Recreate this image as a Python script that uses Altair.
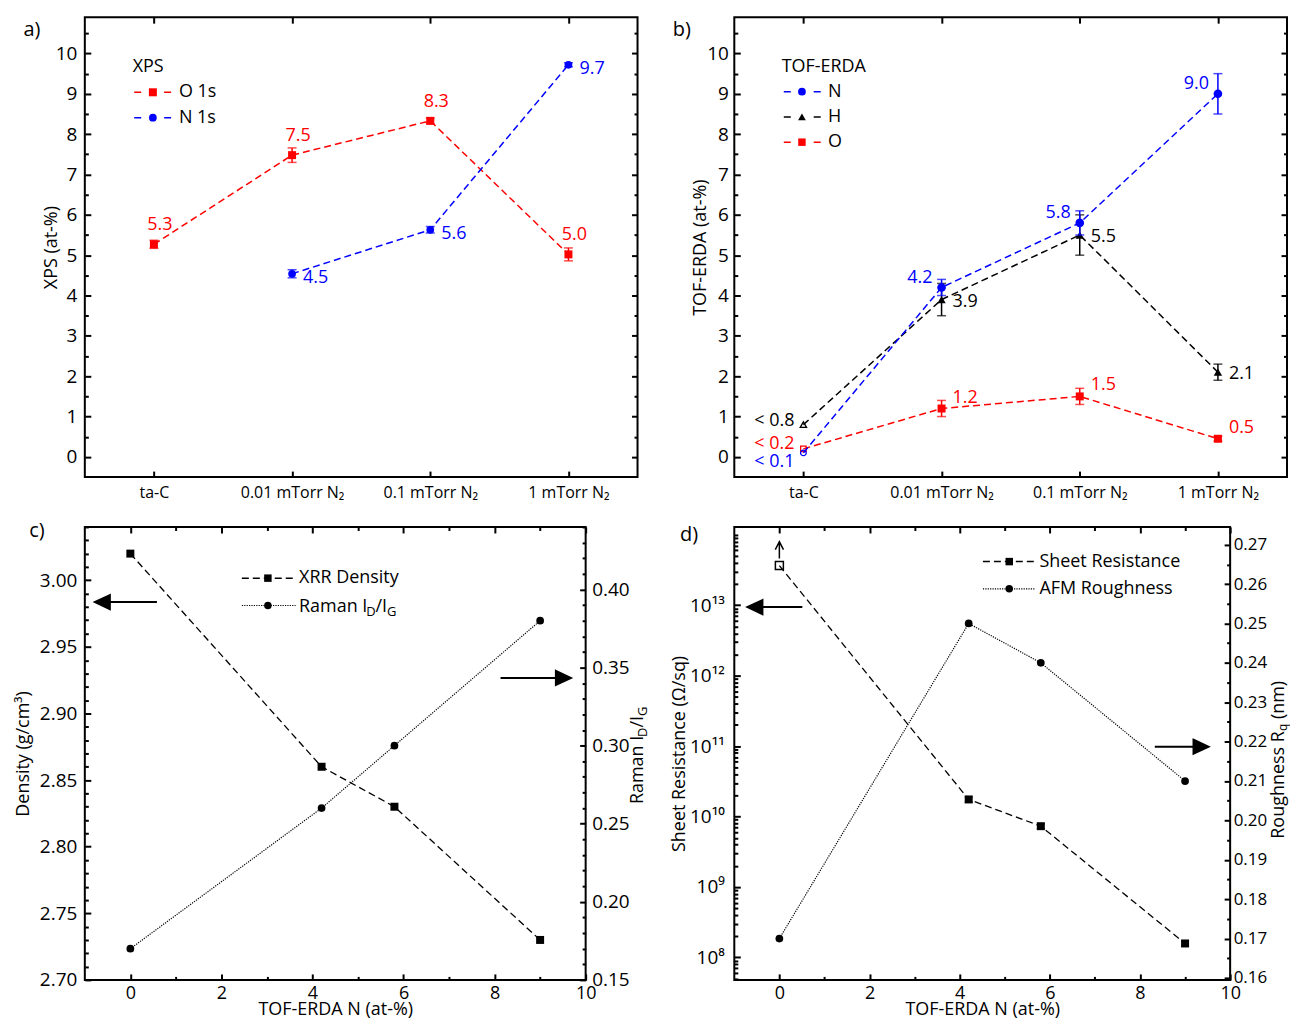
import altair as alt
import pandas as pd

FONT = "Open Sans"
RED, BLUE, BLACK = "#ff0000", "#0000ff", "#000000"

# ---------------- data ----------------
categories = ["ta-C", "0.01 mTorr N₂", "0.1 mTorr N₂", "1 mTorr N₂"]

# a) XPS
xps_o = [5.27, 7.48, 8.33, 5.02]
xps_o_err = [0.10, 0.18, 0.07, 0.16]
xps_n_cats = ["0.01 mTorr N₂", "0.1 mTorr N₂", "1 mTorr N₂"]
xps_n = [4.54, 5.63, 9.72]
xps_n_err = [0.10, 0.08, 0.05]

# b) TOF-ERDA
erda_n = [0.1, 4.2, 5.8, 9.0]
erda_n_err = [0.0, 0.2, 0.3, 0.5]
erda_n_labels = ["< 0.1", "4.2", "5.8", "9.0"]
erda_h = [0.8, 3.9, 5.5, 2.1]
erda_h_err = [0.0, 0.4, 0.5, 0.2]
erda_h_labels = ["< 0.8", "3.9", "5.5", "2.1"]
erda_o = [0.2, 1.2, 1.5, 0.45]
erda_o_err = [0.0, 0.2, 0.2, 0.06]
erda_o_labels = ["< 0.2", "1.2", "1.5", "0.5"]
erda_open = [1, 0, 0, 0]

# c) / d)
tof_n = [0.0, 4.2, 5.8, 9.0]
xrr_density = [3.02, 2.86, 2.83, 2.73]
raman_id_ig = [0.17, 0.26, 0.30, 0.38]
sheet_res = [3.65e13, 1.75e10, 7.3e9, 1.58e8]
sheet_res_err = [0.0, 0.15e10, 0.6e9, 0.13e8]
sheet_res_open = [1, 0, 0, 0]
afm_rq = [0.17, 0.25, 0.24, 0.21]
log_tick_labels = ["10⁸", "10⁹", "10¹⁰", "10¹¹", "10¹²", "10¹³"]

# ---------------- layout constants ----------------
W_AB, W_C, W_D, H, H2 = 554, 502, 497, 461, 454
DASH = [7, 4]
DOT = [1.2, 1.2]
ONE = pd.DataFrame({"k": [0]})

YAB = alt.Scale(domain=[-0.5, 10.9], nice=False, zero=False)
XCAT = alt.Scale(type="point", domain=categories, padding=0.5)
XN = alt.Scale(domain=[-1, 10], nice=False, zero=False)
YL_C = alt.Scale(domain=[2.70, 3.04], nice=False, zero=False)
YR_C = alt.Scale(domain=[0.15, 0.44], nice=False, zero=False)
YL_D = alt.Scale(type="log", domain=[4.8e7, 1.29e14], nice=False)
YR_D = alt.Scale(domain=[0.1595, 0.2745], nice=False, zero=False)

CW = {' ': 0.26, 'R': 0.618, 'a': 0.556, 'm': 0.855, 'n': 0.614, 'I': 0.279, 'D': 0.716,
      '/': 0.367, 'G': 0.706, 'o': 0.604, 'u': 0.614, 'g': 0.541, 'h': 0.614, 'e': 0.561,
      's': 0.477, 'q': 0.604, '(': 0.295, ')': 0.295}


def tw(s, fs):
    return sum(CW.get(c, 0.56) for c in s) * fs


def axis(orient, size=6.0, values=None, labels=False, **kw):
    p = dict(orient=orient, tickSize={"expr": f"{-size}"}, tickWidth=2, tickColor=BLACK,
             domain=False, grid=False, labels=labels, labelFlush=False, labelOverlap=False,
             minExtent=0, maxExtent=400)
    if values is not None:
        p["values"] = values
    p.update(kw)
    return alt.Axis(**p)


def xc(axis_=None):
    return alt.X("cat:N", sort=categories, scale=XCAT, axis=axis_, title=None)


def yq(field, scale, axis_=None, title=None):
    return alt.Y(f"{field}:Q", scale=scale, axis=axis_, title=title)


def xq(field, axis_=None, title=None):
    return alt.X(f"{field}:Q", scale=XN, axis=axis_, title=title)


def txt(text, x, y, fs=18, color=BLACK, align="left", baseline="middle", angle=0, dy=0):
    return alt.Chart(ONE).mark_text(text=text, fontSize=fs, color=color, align=align,
                                    baseline=baseline, angle=angle, dy=dy).encode(
        x=alt.value(x), y=alt.value(y))


def rich(pieces, x, y, angle=0):
    out, cur = [], 0.0
    for t, fs, sh in pieces:
        lead = len(t) - len(t.lstrip(" "))
        cur += tw(" " * lead, fs)
        t = t.lstrip(" ")
        if angle == 0:
            out.append(txt(t, x + cur, y, fs=fs, baseline="alphabetic", dy=sh))
        else:
            out.append(txt(t, x, y - cur, fs=fs, baseline="alphabetic", angle=angle, dy=sh))
        cur += tw(t, fs)
    return out


def legend_item(x0, x1, xm, xt, y, label, color, shape, size, dash, sw=1.5):
    b = alt.Chart(ONE)
    out = [
        b.mark_rule(color=color, strokeDash=dash, strokeWidth=sw).encode(
            x=alt.value(x0), x2=alt.value(x1), y=alt.value(y)),
        b.mark_point(shape=shape, filled=True, size=size, color=color, opacity=1).encode(
            x=alt.value(xm), y=alt.value(y)),
    ]
    if label:
        out.append(txt(label, xt, y))
    return out


def harrow(x_tail, x_tip, y, head=15.0, half=7.0):
    L = abs(x_tip - x_tail)
    u = L / 2
    hl, hh = head / u, half / u
    if x_tip < x_tail:
        b = -1 + hl
        path = f"M1,0L{b:.3f},0M{b:.3f},{-hh:.3f}L-1,0L{b:.3f},{hh:.3f}Z"
    else:
        b = 1 - hl
        path = f"M-1,0L{b:.3f},0M{b:.3f},{-hh:.3f}L1,0L{b:.3f},{hh:.3f}Z"
    return alt.Chart(ONE).mark_point(shape=path, size=L * L, filled=True, fill=BLACK,
                                     stroke=BLACK, strokeWidth=2, opacity=1).encode(
        x=alt.value((x_tail + x_tip) / 2), y=alt.value(y))


def ind_axes(ch):
    return ch.resolve_axis(x="independent", y="independent")


def cat_df(cats, vals, errs, labels, opens):
    df = pd.DataFrame({"cat": cats, "v": vals, "err": errs, "lab": labels, "open": opens})
    df["lo"] = df["v"] - df["err"]
    df["hi"] = df["v"] + df["err"]
    df["i"] = range(len(df))
    return df


def cat_series(df, color, shape, size, open_size, label_specs):
    base = alt.Chart(df)
    e = base.transform_filter("datum.err > 0")
    out = [
        base.mark_line(color=color, strokeDash=DASH, strokeWidth=1.5).encode(x=xc(), y=yq("v", YAB)),
        e.mark_rule(color=color, strokeWidth=1.5).encode(x=xc(), y=yq("lo", YAB), y2="hi"),
        e.transform_fold(["lo", "hi"], as_=["kk", "ev"]).mark_tick(
            orient="horizontal", size=9, thickness=1.5, color=color).encode(x=xc(), y=yq("ev", YAB)),
        base.transform_filter("datum.open == 0").mark_point(
            shape=shape, filled=True, size=size, color=color, opacity=1).encode(x=xc(), y=yq("v", YAB)),
        base.transform_filter("datum.open == 1").mark_point(
            shape=shape, filled=False, size=open_size, color=color, strokeWidth=1.3, opacity=1).encode(
            x=xc(), y=yq("v", YAB)),
    ]
    for flt, align, dx, dy in label_specs:
        out.append(base.transform_filter(flt).mark_text(
            align=align, baseline="middle", dx=dx, dy=dy, fontSize=18, color=color).encode(
            x=xc(), y=yq("v", YAB), text="lab:N"))
    return out


def cat_axes(df, title, title_x, lab_pad):
    b = alt.Chart(df).mark_point(opacity=0)
    major = list(range(0, 11))
    minor = [i + 0.5 for i in range(0, 11)]
    return [
        b.encode(x=xc(axis("bottom", labels=True, labelFontSize=16, labelPadding=13, labelAngle=0)),
                 y=yq("v", YAB, axis("left", values=major, labels=True, labelPadding=lab_pad,
                                     titleX=title_x, titleY=H / 2, titleAngle=270,
                                     titleAlign="center", titleBaseline="middle"), title=title)),
        b.encode(x=xc(axis("top")), y=yq("v", YAB, axis("left", size=3.5, values=minor))),
        b.encode(x=xc(), y=yq("v", YAB, axis("right", values=major))),
        b.encode(x=xc(), y=yq("v", YAB, axis("right", size=3.5, values=minor))),
    ]


# ---------------- panel a ----------------
dfa_o = cat_df(categories, xps_o, xps_o_err, [f"{v:.1f}" for v in xps_o], [0] * 4)
dfa_n = cat_df(xps_n_cats, xps_n, xps_n_err, [f"{v:.1f}" for v in xps_n], [0] * 3)
layers_a = cat_axes(dfa_o, "XPS (at-%)", -33, 14)
layers_a += cat_series(dfa_o, RED, "square", 64, 30, [("true", "center", 6, -19)])
layers_a += cat_series(dfa_n, BLUE, "circle", 60, 30, [("true", "left", 11, 4)])
layers_a += [txt("XPS", 48, 50)]
layers_a += legend_item(49.5, 86.7, 68.2, 94.3, 75.3, "O 1s", RED, "square", 64, [7, 23])
layers_a += legend_item(49.5, 86.7, 68.2, 94.3, 100.7, "N 1s", BLUE, "circle", 60, [7, 23])
layers_a += [txt("a)", -53, 13, fs=20, align="center")]
pa = ind_axes(alt.layer(*layers_a)).properties(width=W_AB, height=H)

# ---------------- panel b ----------------
dfb_n = cat_df(categories, erda_n, erda_n_err, erda_n_labels, erda_open)
dfb_h = cat_df(categories, erda_h, erda_h_err, erda_h_labels, erda_open)
dfb_o = cat_df(categories, erda_o, erda_o_err, erda_o_labels, erda_open)
layers_b = cat_axes(dfb_n, "TOF-ERDA (at-%)", -34, 12)
layers_b += cat_series(dfb_o, RED, "square", 64, 30,
                       [("datum.i == 0", "right", -9, -5), ("datum.i > 0", "left", 11, -11)])
layers_b += cat_series(dfb_h, BLACK, "triangle-up", 70, 40,
                       [("datum.i == 0", "right", -9, -4), ("datum.i > 0", "left", 11, 2)])
layers_b += cat_series(dfb_n, BLUE, "circle", 75, 32,
                       [("datum.i == 0", "right", -9, 9), ("datum.i > 0", "right", -9, -9.5)])
layers_b += [txt("TOF-ERDA", 47.5, 49.7)]
layers_b += legend_item(49.6, 86.8, 67.8, 93.8, 74.7, "N", BLUE, "circle", 60, [7, 23])
layers_b += legend_item(49.6, 86.8, 67.8, 93.8, 100.0, "H", BLACK, "triangle-up", 60, [7, 23])
layers_b += legend_item(49.6, 86.8, 67.8, 93.8, 125.3, "O", RED, "square", 56, [7, 23])
layers_b += [txt("b)", -52.7, 13, fs=20, align="center")]
pb = ind_axes(alt.layer(*layers_b)).properties(width=W_AB, height=H)

# ---------------- panels c / d helpers ----------------
x_major = [0, 2, 4, 6, 8, 10]
x_minor = [1, 3, 5, 7, 9]


def num_panel(df, yl, yr, yl_field, yr_field, left_axis, left_title, left_minor,
              right_axis, right_minor, left_data, right_data, extras, w):
    b = alt.Chart(df).mark_point(opacity=0)
    left = [
        b.encode(x=xq("x", axis("bottom", values=x_major, labels=True, labelPadding=11, labelAngle=0,
                                labelFontSize=18, format="d", titleX=w / 2, titleY=30,
                                titleBaseline="middle", titleAlign="center"),
                    title="TOF-ERDA N (at-%)"),
                 y=yq(yl_field, yl, left_axis, title=left_title)),
        b.encode(x=xq("x", axis("bottom", size=3.5, values=x_minor)), y=yq(yl_field, yl, left_minor)),
    ] + left_data
    right = [
        b.encode(x=xq("x", axis("top", values=x_major)), y=yq(yr_field, yr, right_axis)),
        b.encode(x=xq("x", axis("top", size=3.5, values=x_minor)), y=yq(yr_field, yr, right_minor)),
    ] + right_data
    outer = alt.layer(ind_axes(alt.layer(*left)), ind_axes(alt.layer(*right)), *extras)
    return ind_axes(outer.resolve_scale(y="independent")).properties(width=w, height=H2)


# ---------------- panel c ----------------
dfc = pd.DataFrame({"x": tof_n, "dens": xrr_density, "raman": raman_id_ig})
dl_major = [round(2.70 + 0.05 * i, 2) for i in range(7)]
dl_minor = [round(2.70 + 0.01 * i, 2) for i in range(35) if i % 5]
rc_major = [round(0.15 + 0.05 * i, 2) for i in range(6)]
rc_minor = [round(0.15 + 0.01 * i, 2) for i in range(30) if i % 5]
cb = alt.Chart(dfc)
left_c = [
    cb.mark_line(color=BLACK, strokeDash=DASH, strokeWidth=1.3).encode(x=xq("x"), y=yq("dens", YL_C)),
    cb.mark_point(shape="square", filled=True, size=64, color=BLACK, opacity=1).encode(
        x=xq("x"), y=yq("dens", YL_C)),
]
right_c = [
    cb.mark_line(color=BLACK, strokeDash=DOT, strokeWidth=1.2).encode(x=xq("x"), y=yq("raman", YR_C)),
    cb.mark_point(shape="circle", filled=True, size=60, color=BLACK, opacity=1).encode(
        x=xq("x"), y=yq("raman", YR_C)),
]
extras_c = []
extras_c += legend_item(157.4, 211.3, 183.5, 214.7, 51.3, "XRR Density", BLACK, "square", 56, DASH)
extras_c += legend_item(157.4, 211.3, 183.5, 214.7, 78.7, "", BLACK, "circle", 56, DOT, sw=1.2)
raman_pieces = [("Raman I", 18, 0), ("D", 13, 4), ("/I", 18, 0), ("G", 13, 4)]
extras_c += rich(raman_pieces, 214.7, 85.2)
total_c = sum(tw(t, fs) for t, fs, _ in raman_pieces)
extras_c += rich(raman_pieces, 559.2, 229 + total_c / 2, angle=270)
extras_c += [harrow(72.3, 10.1, 75.3), harrow(416.7, 487.2, 151.3)]
extras_c += [txt("c)", -48, 4.5, fs=20, align="center")]
pc = num_panel(
    dfc, YL_C, YR_C, "dens", "raman",
    axis("left", values=dl_major, labels=True, format=".2f", labelPadding=14, titleX=-61.5,
         titleY=H2 / 2, titleAngle=270, titleAlign="center", titleBaseline="middle"),
    "Density (g/cm³)",
    axis("left", size=3.5, values=dl_minor),
    axis("right", values=rc_major, labels=True, format=".2f", labelPadding=12),
    axis("right", size=3.5, values=rc_minor), left_c, right_c, extras_c, W_C)

# ---------------- panel d ----------------
dfd = pd.DataFrame({"x": tof_n, "res": sheet_res, "err": sheet_res_err, "open": sheet_res_open,
                    "rq": afm_rq})
dfd["lo"] = dfd["res"] - dfd["err"]
dfd["hi"] = dfd["res"] + dfd["err"]
log_major = [10.0 ** e for e in range(8, 14)]
log_minor = [k * 10.0 ** e for e in range(7, 14) for k in range(2, 10)
             if 4.8e7 <= k * 10.0 ** e <= 1.29e14] + [1e14]
rd_major = [round(0.16 + 0.01 * i, 2) for i in range(12)]
rd_minor = [round(0.165 + 0.01 * i, 3) for i in range(11)]
lab_expr = "[" + ",".join(f"'{s}'" for s in log_tick_labels) + "][round(log(datum.value)/LN10) - 8]"
db = alt.Chart(dfd)
de = db.transform_filter("datum.err > 0")
UP_ARROW = "M0,-0.3L0,-1M-0.17,-0.67L0,-1L0.17,-0.67"
left_d = [
    db.mark_line(color=BLACK, strokeDash=DASH, strokeWidth=1.3).encode(x=xq("x"), y=yq("res", YL_D)),
    de.mark_rule(color=BLACK, strokeWidth=1.5).encode(x=xq("x"), y=yq("lo", YL_D), y2="hi"),
    de.transform_fold(["lo", "hi"], as_=["kk", "ev"]).mark_tick(
        orient="horizontal", size=8, thickness=1.5, color=BLACK).encode(x=xq("x"), y=yq("ev", YL_D)),
    db.transform_filter("datum.open == 0").mark_point(
        shape="square", filled=True, size=64, color=BLACK, opacity=1).encode(x=xq("x"), y=yq("res", YL_D)),
    db.transform_filter("datum.open == 1").mark_point(
        shape="square", filled=False, size=64, color=BLACK, strokeWidth=1.5, opacity=1).encode(
        x=xq("x"), y=yq("res", YL_D)),
    db.transform_filter("datum.open == 1").mark_point(
        shape=UP_ARROW, filled=False, size=2304, color=BLACK, strokeWidth=1.5, opacity=1).encode(
        x=xq("x"), y=yq("res", YL_D)),
]
right_d = [
    db.mark_line(color=BLACK, strokeDash=DOT, strokeWidth=1.2).encode(x=xq("x"), y=yq("rq", YR_D)),
    db.mark_point(shape="circle", filled=True, size=60, color=BLACK, opacity=1).encode(
        x=xq("x"), y=yq("rq", YR_D)),
]
extras_d = []
extras_d += legend_item(249.2, 301.7, 275.6, 305.8, 34.7, "Sheet Resistance", BLACK, "square", 56, DASH)
extras_d += legend_item(249.2, 301.7, 275.6, 305.8, 62.0, "AFM Roughness", BLACK, "circle", 56, DOT, sw=1.2)
rq_pieces = [("Roughness R", 18, 0), ("q", 12, 3), (" (nm)", 18, 0)]
total_d = sum(tw(t, fs) for t, fs, _ in rq_pieces)
extras_d += rich(rq_pieces, 550.7, 234 + total_d / 2, angle=270)
extras_d += [harrow(68.2, 13.2, 80.3), harrow(421.5, 475.3, 220.3)]
extras_d += [txt("d)", -45.4, 8.5, fs=20, align="center")]
pd_ = num_panel(
    dfd, YL_D, YR_D, "res", "rq",
    axis("left", values=log_major, labels=True, labelExpr=lab_expr, labelPadding=16, titleX=-54.7,
         titleY=H2 / 2, titleAngle=270, titleAlign="center", titleBaseline="middle"),
    "Sheet Resistance (Ω/sq)",
    axis("left", size=3.5, values=log_minor),
    axis("right", values=rd_major, labels=True, format=".2f", labelPadding=9, labelFontSize=17),
    axis("right", size=3.5, values=rd_minor), left_d, right_d, extras_d, W_D)

chart = alt.concat(pa, pb, pc, pd_, columns=2, spacing={"row": 50, "column": 97},
                   bounds="flush").properties(
    padding={"left": 5, "top": 6, "right": 0, "bottom": 0}
).configure(font=FONT).configure_view(stroke=BLACK, strokeWidth=2).configure_axis(
    labelFont=FONT, titleFont=FONT, labelFontSize=19, titleFontSize=18,
    labelColor=BLACK, titleColor=BLACK, titleFontWeight="normal")

chart.save("out.html", embed_options={"renderer": "svg", "actions": False})
